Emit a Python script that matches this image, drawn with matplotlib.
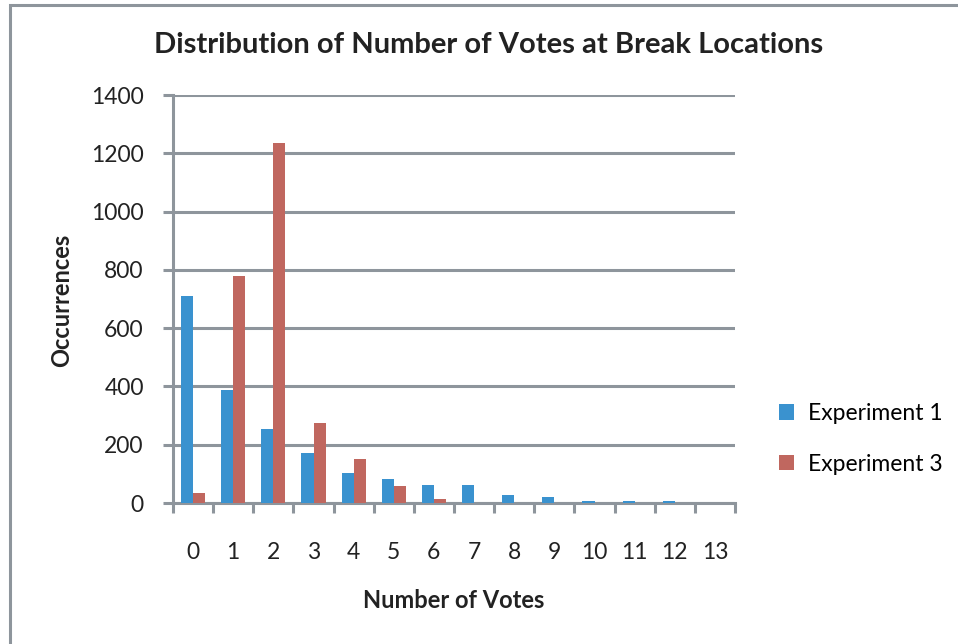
import matplotlib.pyplot as plt
import numpy as np
from matplotlib.patches import Rectangle

# values
votes = list(range(14))
experiment_1 = [709, 389, 254, 173, 104, 83, 63, 62, 29, 21, 8, 8, 8, 0]
experiment_3 = [36, 778, 1234, 275, 152, 57, 14, 0, 0, 0, 0, 0, 0, 0]
y_ticks = [0, 200, 400, 600, 800, 1000, 1200, 1400]

blue = '#3A92CF'
red = '#C0675F'
grey = '#8E959C'
ink = '#222222'

plt.rcParams['font.family'] = ['Lato', 'DejaVu Sans']

fig = plt.figure(figsize=(9.58, 6.44), dpi=100)
ax = fig.add_axes([173 / 958, 1 - 503 / 644, (735 - 173) / 958, (503 - 95) / 644])

# outer chart border (only left and top visible in the reference)
fig.patches.append(Rectangle((10 / 958, -0.1), 1.2, (644 - 5) / 644 + 0.1,
                             transform=fig.transFigure, fill=False,
                             edgecolor=grey, linewidth=2.2))

x = np.arange(len(votes))
w = 0.3
ax.bar(x - w / 2, experiment_1, width=w, color=blue, label='Experiment 1', zorder=3)
ax.bar(x + w / 2, experiment_3, width=w, color=red, label='Experiment 3', zorder=3)

ax.set_xlim(-0.5, len(votes) - 0.5)
ax.set_ylim(0, 1400)
ax.set_yticks(y_ticks)
ax.grid(axis='y', color=grey, linewidth=2.2, zorder=1)
ax.set_axisbelow(True)

for side in ['top', 'right']:
    ax.spines[side].set_visible(False)
for side in ['left', 'bottom']:
    ax.spines[side].set_color(grey)
    ax.spines[side].set_linewidth(2.2)

ax.set_xticks(x)
ax.set_xticklabels([str(v) for v in votes])
ax.set_xticks(np.arange(-0.5, len(votes)), minor=True)
ax.tick_params(axis='x', which='major', length=0, pad=28, labelsize=16.5, labelcolor=ink)
ax.tick_params(axis='x', which='minor', length=7, width=2.2, color=grey)
ax.tick_params(axis='y', length=7, width=2.2, color=grey, pad=14, labelsize=16.5,
               labelcolor=ink)

fig.text(454 / 958, 1 - 600 / 644, 'Number of Votes', ha='center', va='center',
         fontsize=17, fontweight='bold', color=ink)
fig.text(62 / 958, 1 - 300 / 644, 'Occurrences', ha='center', va='center', rotation=90,
         fontsize=17, fontweight='bold', color=ink)
fig.text(489 / 958, 1 - 45 / 644, 'Distribution of Number of Votes at Break Locations',
         ha='center', va='center', fontsize=21, fontweight='bold', color=ink)

fig.legend(loc='center left', bbox_to_anchor=(770 / 958, 1 - 439 / 644), frameon=False,
           fontsize=16.5, handlelength=0.65, handleheight=0.65, labelspacing=1.3,
           handletextpad=0.6, borderaxespad=0)

fig.savefig('out.png', dpi=100)
